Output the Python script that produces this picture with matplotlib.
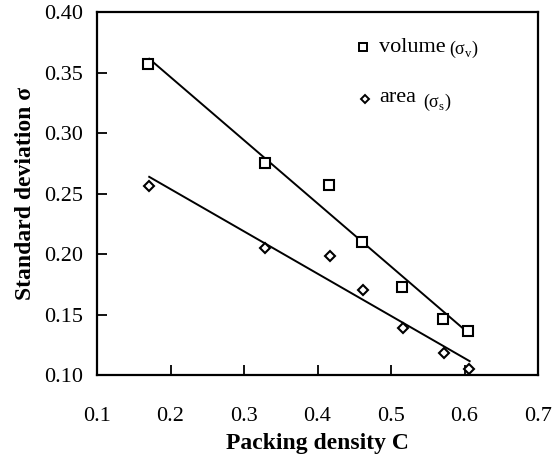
import numpy as np
import matplotlib
matplotlib.use('Agg')
from matplotlib import pyplot as plt

###############
#    DATA     #
###############

packing_volume = [0.169, 0.329, 0.416, 0.461, 0.515, 0.571, 0.605]
sigma_volume = [0.357, 0.275, 0.257, 0.210, 0.173, 0.146, 0.136]

packing_area = [0.171, 0.329, 0.417, 0.462, 0.516, 0.572, 0.606]
sigma_area = [0.256, 0.205, 0.198, 0.170, 0.139, 0.118, 0.105]

fit_range = [0.171, 0.607]

x_ticks = [0.1, 0.2, 0.3, 0.4, 0.5, 0.6, 0.7]
y_ticks = [0.10, 0.15, 0.20, 0.25, 0.30, 0.35, 0.40]

###############
#   STYLE     #
###############

plt.rcParams['font.family'] = ['Liberation Serif', 'DejaVu Serif']
plt.rcParams['mathtext.fontset'] = 'custom'
plt.rcParams['mathtext.rm'] = 'Liberation Serif'


def linear_fit(x, y):
    """Least squares line evaluated over the fit range."""
    slope, intercept = np.polyfit(x, y, 1)
    xs = np.array(fit_range)
    return xs, slope * xs + intercept


fig = plt.figure(figsize=(5.55, 4.62), dpi=100)
ax = fig.add_axes([0.1748, 0.1883, 0.7946, 0.7857])

# fitted lines
for xs, ys in (linear_fit(packing_volume, sigma_volume),
               linear_fit(packing_area, sigma_area)):
    ax.plot(xs, ys, color='black', lw=1.4, zorder=2)

# measured points
ax.plot(packing_volume, sigma_volume, 's', ms=7, mfc='white', mec='black',
        mew=1.5, zorder=3)
ax.plot(packing_area, sigma_area, 'D', ms=5.5, mfc='white', mec='black',
        mew=1.5, zorder=3)

# legend drawn by hand
ax.plot([0.603], [0.904], 's', ms=5.5, mfc='white', mec='black', mew=1.4,
        transform=ax.transAxes, clip_on=False)
ax.plot([0.608], [0.760], 'D', ms=4.5, mfc='white', mec='black', mew=1.4,
        transform=ax.transAxes, clip_on=False)
ax.text(0.640, 0.902, 'volume', transform=ax.transAxes, fontsize=16,
        va='center', ha='left')
ax.text(0.799, 0.896, '(σ$_\\mathregular{v}$)', transform=ax.transAxes,
        fontsize=13, va='center', ha='left')
ax.text(0.640, 0.764, 'area', transform=ax.transAxes, fontsize=16,
        va='center', ha='left')
ax.text(0.740, 0.752, '(σ$_\\mathregular{s}$)', transform=ax.transAxes,
        fontsize=13, va='center', ha='left')

ax.set_xlim(0.1, 0.7)
ax.set_ylim(0.10, 0.40)
ax.set_xticks(x_ticks)
ax.set_yticks(y_ticks)
ax.set_xticklabels([f'{t:.1f}' for t in x_ticks])
ax.set_yticklabels([f'{t:.2f}' for t in y_ticks])

ax.tick_params(axis='both', direction='in', length=7, width=1.3,
               labelsize=16, top=False, right=False)
ax.tick_params(axis='x', pad=23)
ax.tick_params(axis='y', pad=10)
for spine in ax.spines.values():
    spine.set_linewidth(1.6)

ax.set_xlabel('Packing density C', fontsize=17, fontweight='bold', labelpad=5)
ax.set_ylabel('Standard deviation σ', fontsize=17, fontweight='bold',
              labelpad=6)

fig.savefig('out.png', dpi=100)
